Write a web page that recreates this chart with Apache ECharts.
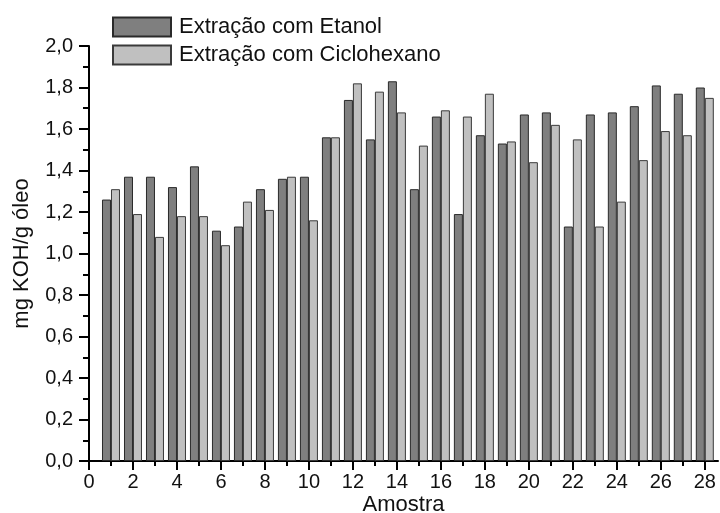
<!DOCTYPE html>
<html>
<head>
<meta charset="utf-8">
<script src="https://cdn.jsdelivr.net/npm/echarts@6/dist/echarts.min.js"></script>
<style>
  html, body { margin: 0; padding: 0; background: #fff; }
  #chart { width: 720px; height: 513px; }
</style>
</head>
<body>
<div id="chart"></div>
<script>
// Sample numbers along the x axis
const amostras = [1, 2, 3, 4, 5, 6, 7, 8, 9, 10, 11, 12, 13, 14,
                  15, 16, 17, 18, 19, 20, 21, 22, 23, 24, 25, 26, 27, 28];

// Acid value (mg KOH / g oil) for each extraction solvent
const etanol = [1.26, 1.37, 1.37, 1.32, 1.42, 1.11, 1.13, 1.31, 1.36, 1.37,
                1.56, 1.74, 1.55, 1.83, 1.31, 1.66, 1.19, 1.57, 1.53, 1.67,
                1.68, 1.13, 1.67, 1.68, 1.71, 1.81, 1.77, 1.80];
const ciclohexano = [1.31, 1.19, 1.08, 1.18, 1.18, 1.04, 1.25, 1.21, 1.37, 1.16,
                     1.56, 1.82, 1.78, 1.68, 1.52, 1.69, 1.66, 1.77, 1.54, 1.44,
                     1.62, 1.55, 1.13, 1.25, 1.45, 1.59, 1.57, 1.75];

// Tick positions
const xMajorTicks = [0, 2, 4, 6, 8, 10, 12, 14, 16, 18, 20, 22, 24, 26, 28];
const xMinorTicks = [1, 3, 5, 7, 9, 11, 13, 15, 17, 19, 21, 23, 25, 27];

const FONT = '"Liberation Sans", Arial, sans-serif';
const INK = '#111';

const chart = echarts.init(document.getElementById('chart'), null, { renderer: 'canvas' });

const pairs = (ys) => amostras.map((x, i) => [x, ys[i]]);

const xBase = {
  type: 'value',
  min: 0,
  max: 28.6,
  position: 'bottom',
  splitLine: { show: false },
};

chart.setOption({
  animation: false,
  backgroundColor: '#fff',
  textStyle: { fontFamily: FONT },
  grid: { left: 89, right: 2, top: 46, bottom: 52, containLabel: false, outerBoundsMode: 'none' },
  legend: {
    orient: 'vertical',
    left: 112,
    top: 16,
    padding: 0,
    itemWidth: 58,
    itemHeight: 19,
    itemGap: 6,
    icon: 'rect',
    textStyle: { fontFamily: FONT, fontSize: 22, color: INK, padding: [0, 0, 0, 3] },
    data: ['Extração com Etanol', 'Extração com Ciclohexano'],
  },
  xAxis: [
    Object.assign({}, xBase, {
      name: 'Amostra',
      nameLocation: 'middle',
      nameGap: 33,
      nameMoveOverlap: false,
      nameTextStyle: { fontFamily: FONT, fontSize: 22, color: INK },
      axisLine: { show: true, onZero: false, lineStyle: { color: '#000', width: 2 } },
      axisTick: { show: true, inside: false, length: 9, customValues: xMajorTicks,
                  lineStyle: { color: '#000', width: 2 } },
      axisLabel: { show: true, customValues: xMajorTicks, margin: 11,
                   fontFamily: FONT, fontSize: 20, color: INK },
    }),
    Object.assign({}, xBase, {
      axisLine: { show: false },
      axisTick: { show: true, inside: false, length: 5, customValues: xMinorTicks,
                  lineStyle: { color: '#000', width: 2 } },
      axisLabel: { show: false },
    }),
  ],
  yAxis: {
    type: 'value',
    min: 0,
    max: 2.0,
    interval: 0.2,
    name: 'mg KOH/g óleo',
    nameLocation: 'middle',
    nameGap: 56,
    nameMoveOverlap: false,
    nameTextStyle: { fontFamily: FONT, fontSize: 22, color: INK },
    splitLine: { show: false },
    axisLine: { show: true, onZero: false, lineStyle: { color: '#000', width: 2 } },
    axisTick: { show: true, inside: false, length: 10, lineStyle: { color: '#000', width: 2 } },
    minorTick: { show: true, splitNumber: 2, length: 6, lineStyle: { color: '#000', width: 2 } },
    axisLabel: {
      margin: 16,
      fontFamily: FONT,
      fontSize: 20,
      color: INK,
      formatter: (v) => v.toFixed(1).replace('.', ','),
    },
  },
  series: [
    {
      name: 'Extração com Etanol',
      type: 'bar',
      xAxisIndex: 0,
      barWidth: 9,
      barGap: '0%',
      data: pairs(etanol),
      itemStyle: { color: '#7f7f7f', borderColor: '#2a2a2a', borderWidth: 1 },
    },
    {
      name: 'Extração com Ciclohexano',
      type: 'bar',
      xAxisIndex: 0,
      barWidth: 9,
      barGap: '0%',
      data: pairs(ciclohexano),
      itemStyle: { color: '#c0c0c0', borderColor: '#3a3a3a', borderWidth: 1 },
    },
  ],
});
</script>
</body>
</html>
